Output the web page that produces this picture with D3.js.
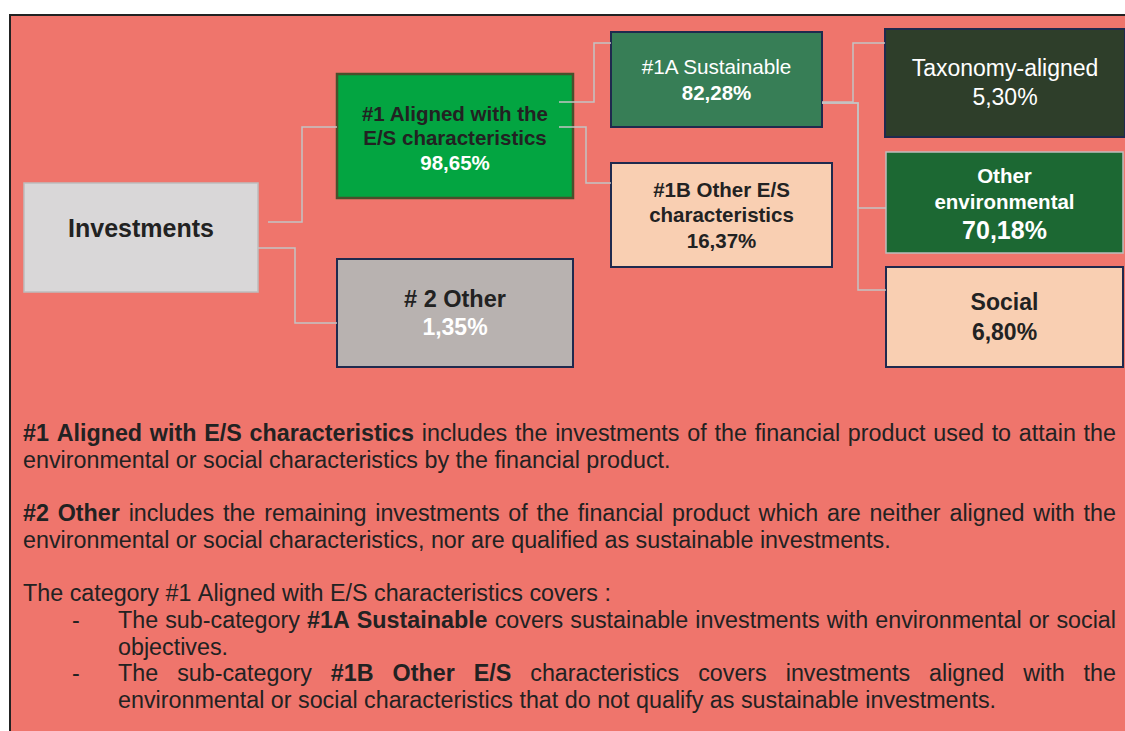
<!DOCTYPE html>
<meta charset="utf-8">
<script src="https://d3js.org/d3.v7.min.js"></script>
<style>
  body { margin: 0; background: #fff; }
  svg text { font-family: "Liberation Sans", Arial, sans-serif; }
</style>
<div id="my_dataviz"></div>
<script>

// ---- data: the breakdown tree ----
var nodeIds     = ["inv", "al", "oth", "sus", "es", "tax", "env", "soc"];
var nodeParents = ["", "inv", "inv", "al", "al", "sus", "sus", "sus"];
var nodeLabels  = [["Investments"], ["#1 Aligned with the", "E/S characteristics"], ["# 2 Other"],
                   ["#1A Sustainable"], ["#1B Other E/S", "characteristics"],
                   ["Taxonomy-aligned"], ["Other", "environmental"], ["Social"]];
var nodeValues  = [null, 98.65, 1.35, 82.28, 16.37, 5.30, 70.18, 6.80];

// ---- data: the notes under the diagram (one entry per printed line) ----
var noteRuns = [
  [["#1 Aligned with E/S characteristics", 1], [" includes the investments of the financial product used to attain the", 0]],
  [["environmental or social characteristics by the financial product.", 0]],
  [["#2 Other", 1], [" includes the remaining investments of the financial product which are neither aligned with the", 0]],
  [["environmental or social characteristics, nor are qualified as sustainable investments.", 0]],
  [["The category #1 Aligned with E/S characteristics covers :", 0]],
  [["The sub-category ", 0], ["#1A Sustainable", 1], [" covers sustainable investments with environmental or social", 0]],
  [["objectives.", 0]],
  [["The sub-category ", 0], ["#1B Other E/S", 1], [" characteristics covers investments aligned with the", 0]],
  [["environmental or social characteristics that do not qualify as sustainable investments.", 0]]
];
var notePara    = [0, 0, 1, 1, 2, 2, 2, 2, 2];
var noteJustify = [1, 0, 1, 0, 0, 1, 0, 1, 0];
var noteIndent  = [0, 0, 0, 0, 0, 1, 1, 1, 1];
var noteBullet  = [0, 0, 0, 0, 0, 1, 0, 1, 0];

// ---- layout / style (kept apart from the data) ----
var W = 1125, H = 731;
var navy = "#1F2A4E", grey = "#BDBDBD", dark = "#222222", peach = "#F9CFB2";
var boxes = {
  inv: {x: 24,  y: 183, w: 234, h: 109, fill: "#D9D7D8", stroke: grey,      sw: 1.5},
  al:  {x: 337, y: 74,  w: 236, h: 124, fill: "#03A541", stroke: "#4A4F2B", sw: 2.5},
  oth: {x: 337, y: 259, w: 236, h: 108, fill: "#B8B2B0", stroke: navy,      sw: 2},
  sus: {x: 611, y: 32,  w: 211, h: 95,  fill: "#377E56", stroke: navy,      sw: 2},
  es:  {x: 611, y: 163, w: 221, h: 104, fill: peach,     stroke: navy,      sw: 2},
  tax: {x: 885, y: 29,  w: 240, h: 108, fill: "#2E3E2A", stroke: navy,      sw: 2},
  env: {x: 886, y: 152, w: 237, h: 101, fill: "#1C6833", stroke: grey,      sw: 1.5},
  soc: {x: 886, y: 267, w: 237, h: 100, fill: peach,     stroke: navy,      sw: 2}
};
// label: colour, weight, size, first baseline, line step; value: colour, weight, size, baseline
var texts = {
  inv: {lc: dark,   lw: "bold",   ls: 25,   ly: 236.5, lstep: 0},
  al:  {lc: dark,   lw: "bold",   ls: 20.5, ly: 120.5, lstep: 24.5, vc: "#fff", vw: "bold",   vs: 20.5, vy: 169.5},
  oth: {lc: dark,   lw: "bold",   ls: 23.5, ly: 306.5, lstep: 0,    vc: "#fff", vw: "bold",   vs: 23,   vy: 335},
  sus: {lc: "#fff", lw: "normal", ls: 20.7, ly: 73.5,  lstep: 0,    vc: "#fff", vw: "bold",   vs: 20.5, vy: 100},
  es:  {lc: dark,   lw: "bold",   ls: 20.5, ly: 196.5, lstep: 25.7, vc: dark,   vw: "bold",   vs: 20.5, vy: 248},
  tax: {lc: "#fff", lw: "normal", ls: 23,   ly: 76,    lstep: 0,    vc: "#fff", vw: "normal", vs: 23,   vy: 105},
  env: {lc: "#fff", lw: "bold",   ls: 20.5, ly: 182.5, lstep: 26,   vc: "#fff", vw: "bold",   vs: 25,   vy: 239},
  soc: {lc: dark,   lw: "bold",   ls: 23,   ly: 310,   lstep: 0,    vc: dark,   vw: "bold",   vs: 23,   vy: 340}
};
// elbow connectors: start point, bend x, entry y on the child
var elbows = {
  al:  {sx: 268, sy: 222, mx: 302, ey: 127},
  oth: {sx: 258, sy: 248, mx: 295, ey: 323},
  sus: {sx: 559, sy: 102, mx: 594, ey: 43},
  es:  {sx: 559, sy: 127, mx: 586, ey: 183},
  tax: {sx: 822, sy: 102, mx: 853, ey: 43},
  env: {sx: 822, sy: 103, mx: 858, ey: 208},
  soc: {sx: 822, sy: 103, mx: 858, ey: 290}
};
var noteFont = 23.3, noteStep = 26.8, noteLeft = 23, noteRight = 1116,
    noteIndentX = 118, bulletX = 72, paraTop = [441, 521, 601];

var pct = d3.formatLocale({decimal: ",", thousands: ".", grouping: [3], currency: ["", ""]}).format(".2f");

// append the svg object
var svg = d3.select("#my_dataviz")
  .append("svg")
    .attr("width", W)
    .attr("height", H);

// background panel with its frame (right and bottom run off the page)
svg.append("rect")
  .attr("x", 10).attr("y", 15)
  .attr("width", W + 20).attr("height", H + 20)
  .attr("fill", "#EF756C")
  .attr("stroke", "#222")
  .attr("stroke-width", 2);

// build the tree
var root = d3.stratify()
  .id(function(d) { return d.id; })
  .parentId(function(d) { return d.parent || null; })
  (nodeIds.map(function(id, i) {
    return {id: id, parent: nodeParents[i], label: nodeLabels[i], value: nodeValues[i]};
  }));

// boxes
var node = svg.selectAll(".node")
  .data(root.descendants())
  .enter()
  .append("g")
    .attr("class", "node");

node.append("rect")
  .attr("x", function(d) { return boxes[d.id].x; })
  .attr("y", function(d) { return boxes[d.id].y; })
  .attr("width", function(d) { return boxes[d.id].w; })
  .attr("height", function(d) { return boxes[d.id].h; })
  .attr("fill", function(d) { return boxes[d.id].fill; })
  .attr("stroke", function(d) { return boxes[d.id].stroke; })
  .attr("stroke-width", function(d) { return boxes[d.id].sw; });

node.each(function(d) {
  var b = boxes[d.id], t = texts[d.id], g = d3.select(this), cx = b.x + b.w / 2;
  d.data.label.forEach(function(line, i) {
    g.append("text")
      .attr("x", cx)
      .attr("y", t.ly + i * t.lstep)
      .attr("text-anchor", "middle")
      .attr("fill", t.lc)
      .attr("font-weight", t.lw)
      .attr("font-size", t.ls)
      .text(line);
  });
  if (d.data.value != null) {
    g.append("text")
      .attr("x", cx)
      .attr("y", t.vy)
      .attr("text-anchor", "middle")
      .attr("fill", t.vc)
      .attr("font-weight", t.vw)
      .attr("font-size", t.vs)
      .text(pct(d.data.value) + "%");
  }
});

// connectors
svg.selectAll(".link")
  .data(root.links())
  .enter()
  .append("path")
    .attr("class", "link")
    .attr("fill", "none")
    .attr("stroke", "#C4C4C4")
    .attr("stroke-width", 1.5)
    .attr("d", function(l) {
      var e = elbows[l.target.id];
      return "M" + e.sx + "," + e.sy + "H" + e.mx + "V" + e.ey + "H" + boxes[l.target.id].x;
    });

// notes, justified word by word like the printed text
var notes = svg.append("g")
  .attr("font-size", noteFont)
  .attr("fill", dark);

var lineInPara = {};
noteRuns.forEach(function(runs, i) {
  var p = notePara[i];
  lineInPara[p] = (lineInPara[p] || 0);
  var y = paraTop[p] + lineInPara[p] * noteStep;
  lineInPara[p]++;

  var x0 = noteIndent[i] ? noteIndentX : noteLeft;
  if (noteBullet[i]) {
    notes.append("text").attr("x", bulletX).attr("y", y).text("-");
  }

  // split runs into words that keep their weight
  var words = [];
  runs.forEach(function(r) {
    r[0].split(" ").forEach(function(w) {
      if (w.length) words.push({t: w, b: r[1]});
    });
  });

  var els = words.map(function(w) {
    return notes.append("text")
      .attr("y", y)
      .attr("font-weight", w.b ? "bold" : "normal")
      .text(w.t);
  });
  var widths = els.map(function(e) { return e.node().getComputedTextLength(); });
  var total = d3.sum(widths);
  var gap = noteJustify[i] && words.length > 1
    ? (noteRight - x0 - total) / (words.length - 1)
    : noteFont * 0.278;

  var x = x0;
  els.forEach(function(e, k) {
    e.attr("x", x);
    x += widths[k] + gap;
  });
});

</script>
